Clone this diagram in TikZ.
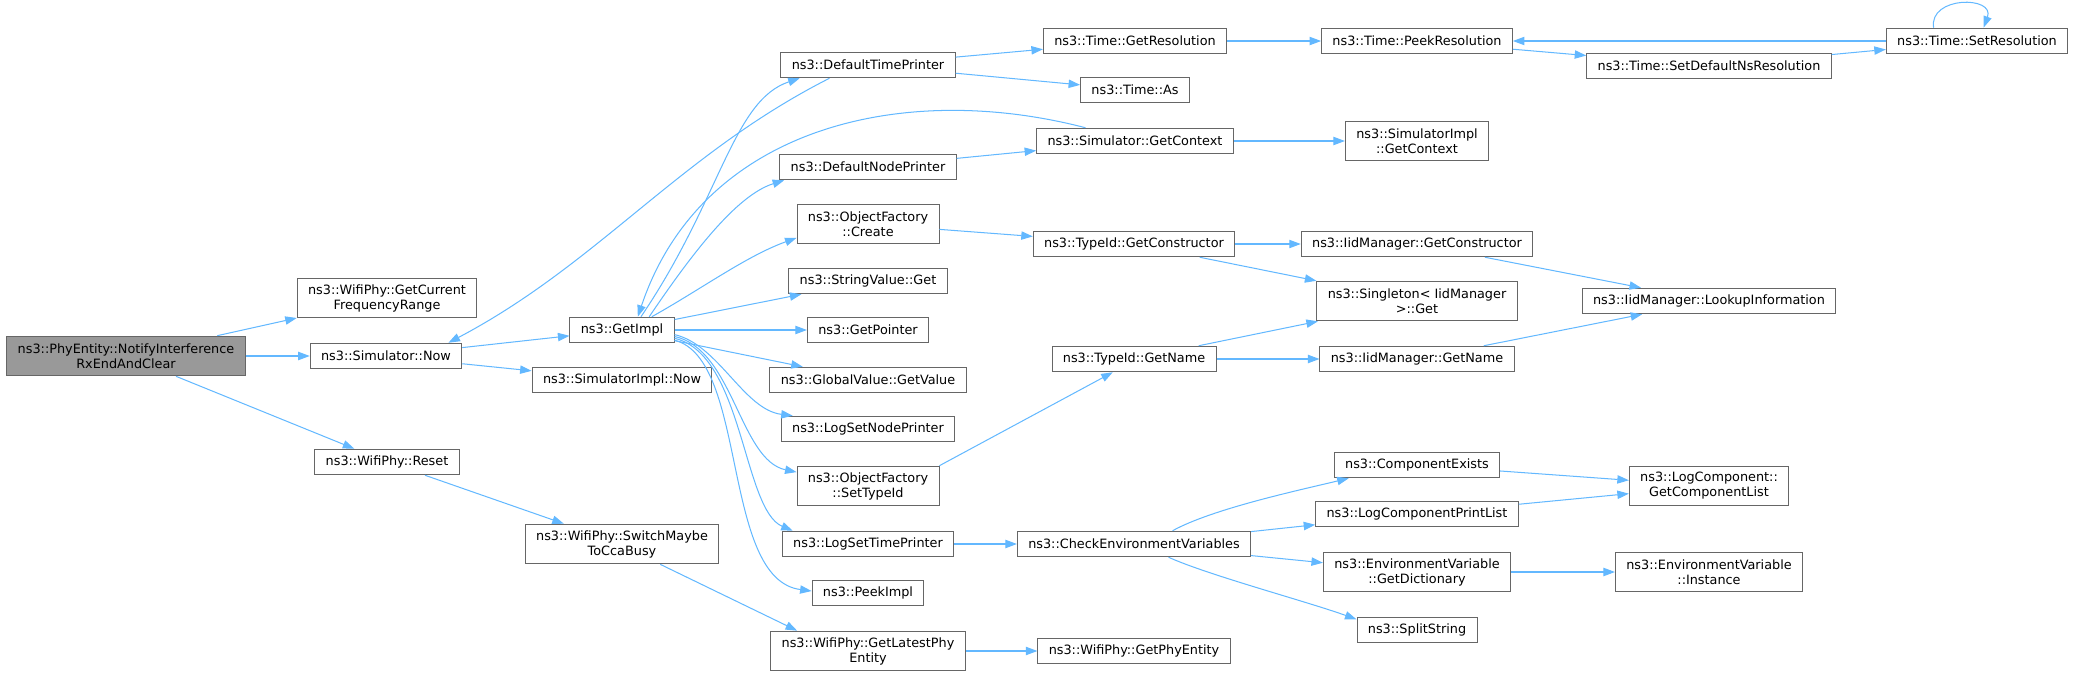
\documentclass[tikz,border=0pt]{standalone}
\usepackage{fontspec}
\setmainfont{DejaVu Sans}
\usepackage{tikz}
\usetikzlibrary{positioning,arrows.meta}
\definecolor{edgeblue}{HTML}{63B8FF}
\definecolor{boxline}{HTML}{666666}
\definecolor{mainfill}{HTML}{999999}

\begin{document}
\begin{tikzpicture}[
    x=0.78pt, y=-0.78pt,
    fn/.style = {draw=boxline, fill=white, line width=0.7pt, minimum height=20pt, inner xsep=8.5pt, inner ysep=3pt, align=center, font=\fontsize{10}{11.7}\selectfont},
    fn2/.style = {fn, minimum height=31pt},
    cur/.style = {fn2, fill=mainfill},
    call/.style = {->, draw=edgeblue, line width=0.8pt},
    > = {Triangle[length=9pt, width=6.5pt]}
]
\useasboundingbox (0,0) rectangle (2075,676);

% first columns
\node (notify) [cur] at (126,356) {ns3::PhyEntity::NotifyInterference\\RxEndAndClear};
\node (freq) [fn2] at (387,298) {ns3::WifiPhy::GetCurrent\\FrequencyRange};
\node (now) [fn] at (386,356) {ns3::Simulator::Now};
\node (reset) [fn] at (387,462) {ns3::WifiPhy::Reset};
\node (gimpl) [fn] at (622,330) {ns3::GetImpl};
\node (simnow) [fn] at (622,380) {ns3::SimulatorImpl::Now};
\node (cca) [fn2] at (622,544) {ns3::WifiPhy::SwitchMaybe\\ToCcaBusy};

% callees of GetImpl
\node (tprint) [fn] at (868,65) {ns3::DefaultTimePrinter};
\node (nprint) [fn] at (868,167) {ns3::DefaultNodePrinter};
\node (ofcreate) [fn2] at (868,224) {ns3::ObjectFactory\\::Create};
\node (strget) [fn] at (868,281) {ns3::StringValue::Get};
\node (getptr) [fn] at (868,330) {ns3::GetPointer};
\node (gvget) [fn] at (868,380) {ns3::GlobalValue::GetValue};
\node (lognode) [fn] at (868,429) {ns3::LogSetNodePrinter};
\node (oftype) [fn2] at (868,486) {ns3::ObjectFactory\\::SetTypeId};
\node (logtime) [fn] at (868,544) {ns3::LogSetTimePrinter};
\node (peek) [fn] at (868,593) {ns3::PeekImpl};
\node (latest) [fn2] at (868,651) {ns3::WifiPhy::GetLatestPhy\\Entity};

\node (getres) [fn] at (1135,41) {ns3::Time::GetResolution};
\node (tas) [fn] at (1135,90) {ns3::Time::As};
\node (ctx) [fn] at (1135,141) {ns3::Simulator::GetContext};
\node (tidctor) [fn] at (1134,244) {ns3::TypeId::GetConstructor};
\node (tidname) [fn] at (1134,359) {ns3::TypeId::GetName};
\node (checkenv) [fn] at (1134,544) {ns3::CheckEnvironmentVariables};
\node (phyent) [fn] at (1134,651) {ns3::WifiPhy::GetPhyEntity};

\node (peekres) [fn] at (1417,41) {ns3::Time::PeekResolution};
\node (implctx) [fn2] at (1417,141) {ns3::SimulatorImpl\\::GetContext};
\node (iidctor) [fn] at (1417,244) {ns3::IidManager::GetConstructor};
\node (single) [fn2] at (1417,301) {ns3::Singleton< IidManager\\ >::Get};
\node (iidname) [fn] at (1417,359) {ns3::IidManager::GetName};
\node (exists) [fn] at (1417,465) {ns3::ComponentExists};
\node (printlist) [fn] at (1417,514) {ns3::LogComponentPrintList};
\node (envdict) [fn2] at (1417,572) {ns3::EnvironmentVariable\\::GetDictionary};
\node (split) [fn] at (1417,630) {ns3::SplitString};

\node (nsres) [fn] at (1709,66) {ns3::Time::SetDefaultNsResolution};
\node (lookup) [fn] at (1709,301) {ns3::IidManager::LookupInformation};
\node (complist) [fn2] at (1709,486) {ns3::LogComponent::\\GetComponentList};
\node (envinst) [fn2] at (1709,572) {ns3::EnvironmentVariable\\::Instance};
\node (setres) [fn] at (1977,41) {ns3::Time::SetResolution};

% calls
\draw[call] (notify) to (freq);
\draw[call] (notify) to (now);
\draw[call] (notify) to (reset);
\draw[call] (now) to (gimpl);
\draw[call] (now) to (simnow);
\draw[call] (tprint.199) .. controls +(-150,76) and +(150,-79) .. (now.12);
\draw[call] (gimpl.35) .. controls +(80,-118) and +(-67,22) .. (tprint.191);
\draw[call] (ctx.165) .. controls +(-185,-48) and +(63,-188) .. (gimpl.40);
\draw[call] (gimpl.26) .. controls +(42,-62) and +(-48,15) .. (nprint.189);
\draw[call] (gimpl.24) .. controls +(50,-28) and +(-50,18) .. (ofcreate.191);
\draw[call] (gimpl) to (strget);
\draw[call] (gimpl) to (getptr);
\draw[call] (gimpl) to (gvget);
\draw[call] (gimpl.-5) .. controls +(44,10) and +(-49,-6) .. (lognode.170);
\draw[call] (gimpl.-7) .. controls +(59,13) and +(-57,-12) .. (oftype.169);
\draw[call] (gimpl.-9) .. controls +(69,16) and +(-50,-21) .. (logtime.170);
\draw[call] (gimpl.-11) .. controls +(74,19) and +(-91,-12) .. (peek.178);
\draw[call] (tprint) to (getres);
\draw[call] (tprint) to (tas);
\draw[call] (nprint) to (ctx);
\draw[call] (ctx) to (implctx);
\draw[call] (ofcreate) to (tidctor);
\draw[call] (getres) to (peekres);
\draw[call] (peekres) to (nsres);
\draw[call] (nsres) to (setres);
\draw[call] (setres) to (peekres);
\draw[call] (setres.163) .. controls +(-5,-32) and +(12,-32) .. (setres.64);
\draw[call] (tidctor) to (iidctor);
\draw[call] (tidctor) to (single);
\draw[call] (iidctor) to (lookup);
\draw[call] (tidname) to (single);
\draw[call] (tidname) to (iidname);
\draw[call] (iidname) to (lookup);
\draw[call] (oftype.north east) to (tidname.212);
\draw[call] (logtime) to (checkenv);
\draw[call] (checkenv.19) .. controls +(40,-22) and +(-50,12) .. (exists.191);
\draw[call] (checkenv) to (printlist);
\draw[call] (checkenv) to (envdict);
\draw[call] (checkenv.-21) .. controls +(40,18) and +(-50,-18) .. (split.170);
\draw[call] (exists) to (complist);
\draw[call] (printlist) to (complist);
\draw[call] (envdict) to (envinst);
\draw[call] (reset) to (cca);
\draw[call] (cca.-28) to (latest.164);
\draw[call] (latest) to (phyent);
\end{tikzpicture}
\end{document}
